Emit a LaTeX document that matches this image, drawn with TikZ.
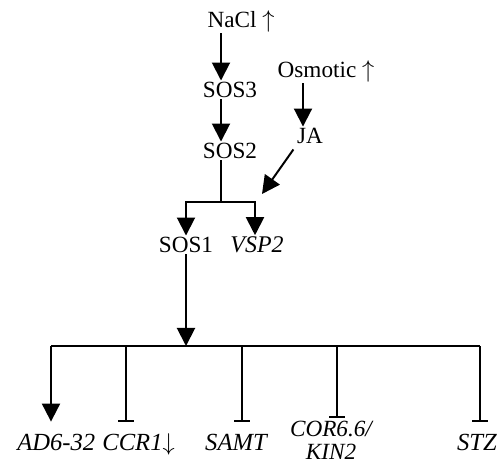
\documentclass[tikz,border=0pt]{standalone}
\usepackage{fontspec}
\setmainfont{Liberation Serif}
\usetikzlibrary{arrows.meta}
\tikzset{
  lbl/.style={inner sep=1pt, font=\fontsize{16.5}{19}\selectfont},
  gene/.style={inner sep=1pt, font=\fontsize{17}{19}\selectfont\itshape},
  target/.style={inner xsep=0pt, inner ysep=7.5pt, text height=12.5pt, text depth=0pt,
    anchor=base, font=\fontsize{17.5}{14}\selectfont\itshape},
  act/.style={line width=1.4pt, -{Triangle[width=0.45cm,length=0.45cm]}},
  inh/.style={line width=1.1pt, -{Bar[width=0.38cm,line width=1.4pt]}},
  wire/.style={line width=1.4pt}
}
\begin{document}
\begin{tikzpicture}[x=0.025cm, y=-0.025cm]
	\useasboundingbox (0,0) rectangle (498,465);
	% upper part
	\node[lbl, anchor=west] (nacl) at (206,21) {NaCl $\uparrow$};
	\node[lbl] (sos3) at (230,90) {SOS3};
	\node[lbl] (sos2) at (230,151) {SOS2};
	\node[lbl, anchor=west] (osm) at (276,71) {Osmotic $\uparrow$};
	\node[lbl] (ja) at (310,136) {JA};
	\coordinate (col) at (221,0);
	\coordinate (split) at (221,202);
	\coordinate (jatip) at (262,194);
	\draw[act] (nacl.south -| col) -- (sos3.north -| col);
	\draw[act] (sos3.south -| col) -- (sos2.north -| col);
	\draw[act] (osm.south -| 303,0) -- (ja.north -| 303,0);
	\draw[act] (ja.south west) ++(-2,4) -- (jatip);
	% branch to SOS1 and VSP2
	\node[lbl] (sos1) at (186,245) {SOS1};
	\node[gene] (vsp2) at (257,245) {VSP2};
	\draw[wire] (sos2.south -| col) -- (split);
	\draw[act] (split) -| (sos1.north -| 186,0);
	\draw[act] (split) -| (vsp2.north -| 255,0);
	% lower part
	\coordinate (hub) at (186,346);
	\node[target, anchor=base west] (ad) at (17,450) {AD6-32};
	\node[target, anchor=base east] (ccr) at (175,450) {CCR1$\downarrow$};
	\node[target] (samt) at (236,450) {SAMT};
	\node[inner sep=0pt, align=center, font=\fontsize{16.5}{16.5}\selectfont\itshape] (cor) at (331,440) {COR6.6/\\KIN2};
	\node[target] (stz) at (477,450) {STZ};
	\draw[act] (sos1.south) -- (hub);
	\draw[wire] (51,346) -- (480,346);
	\draw[act] (hub -| 51,0) -- (ad.north -| 51,0);
	\draw[inh] (hub -| 126,0) -- (ccr.north -| 126,0);
	\draw[inh] (hub -| 242,0) -- (samt.north -| 242,0);
	\draw[inh, shorten >=2pt] (hub -| 337,0) -- (cor.north -| 337,0);
	\draw[inh] (hub -| 480,0) -- (stz.north -| 480,0);
\end{tikzpicture}
\end{document}
